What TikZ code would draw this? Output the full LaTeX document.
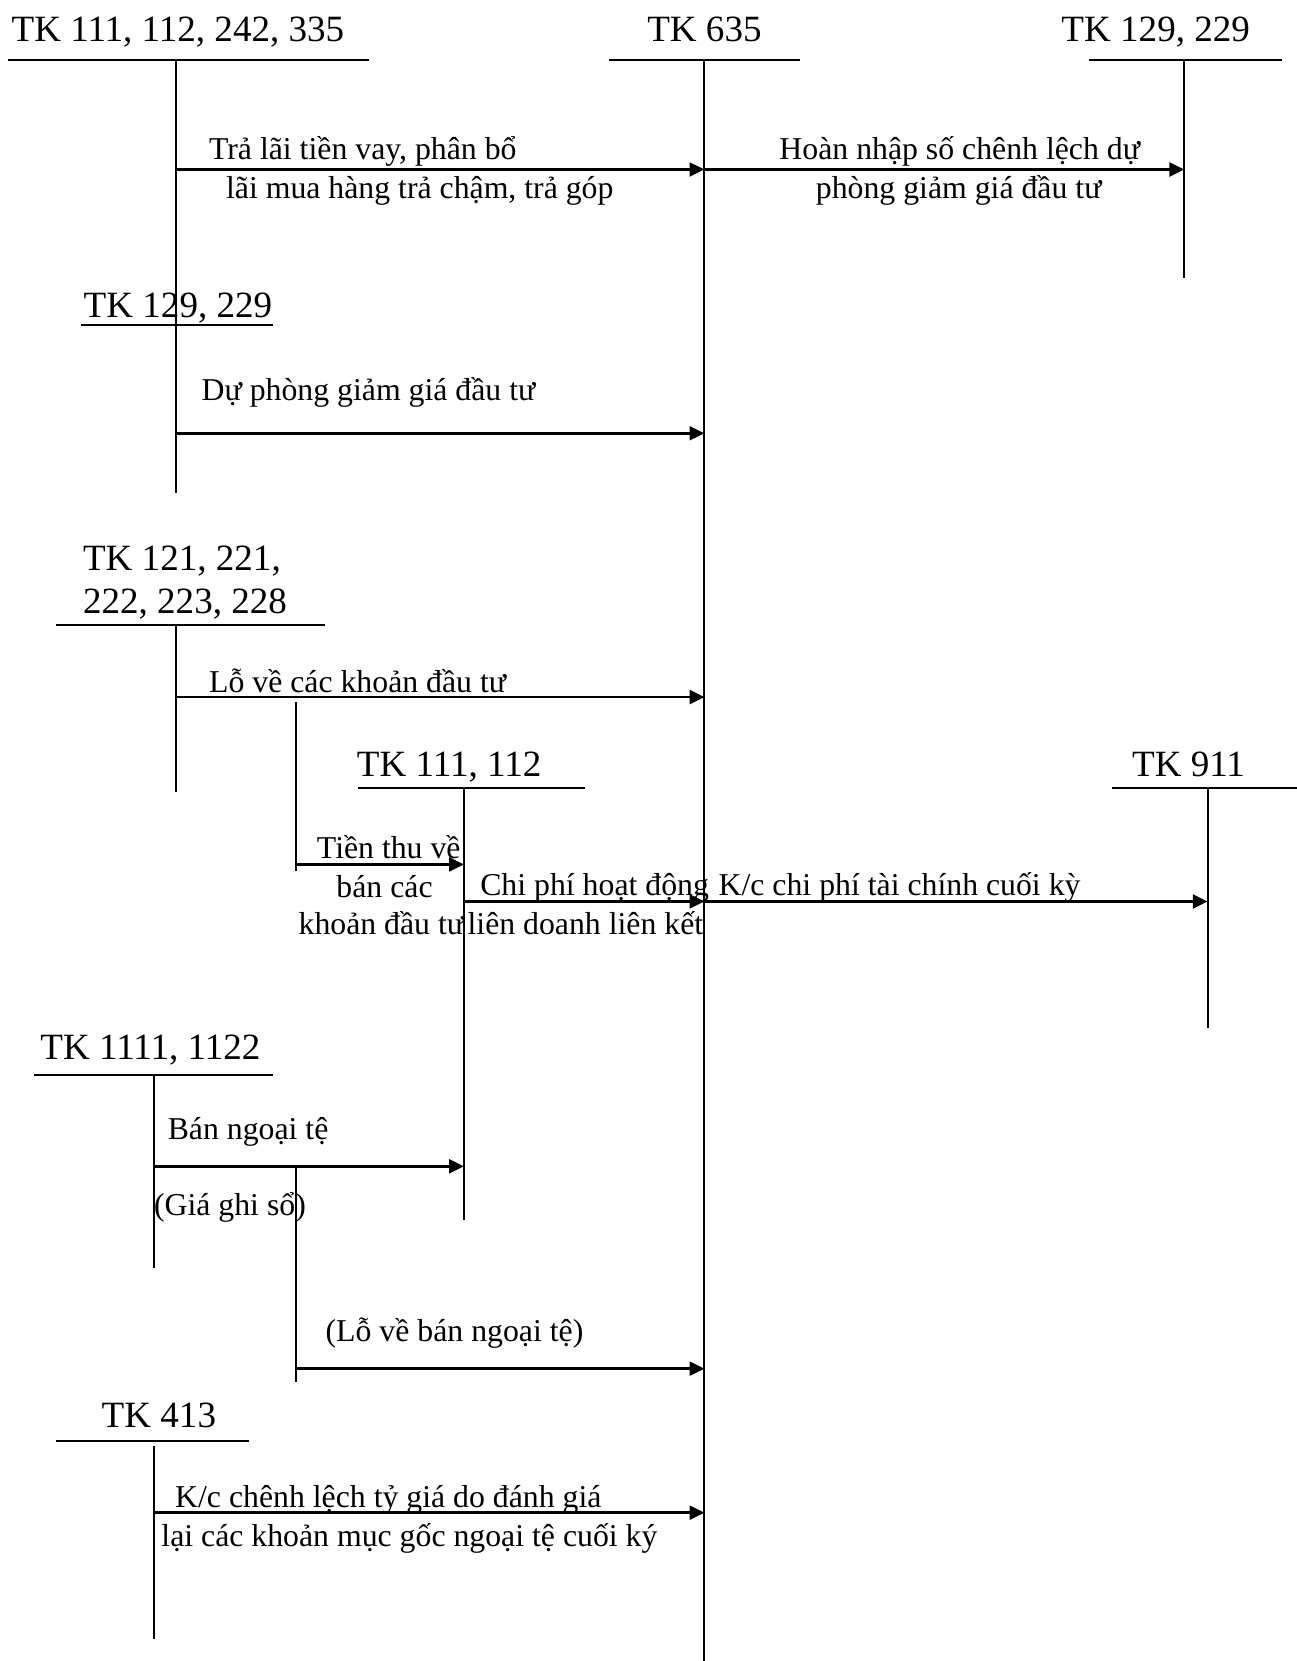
\documentclass[tikz,border=0pt]{standalone}
\usepackage{fontspec}
\setmainfont{Liberation Serif}
\usetikzlibrary{arrows.meta}
\begin{document}
\begin{tikzpicture}[x=0.5pt,y=-0.5pt,
    acct/.style={font=\fontsize{17.5}{20}\selectfont,inner sep=0pt,anchor=base},
    memo/.style={font=\fontsize{15}{17}\selectfont,inner sep=0pt,anchor=base west},
    tline/.style={line width=0.9pt},
    flow/.style={line width=1.3pt,-{Triangle[length=7pt,width=6.5pt]}},]
    \useasboundingbox (0,0) rectangle (1224,1568);
    % T accounts
    \node[acct] (tk111a) at (168,39) {TK 111, 112, 242, 335};
    \draw[tline] (8,57) -- (348,57);
    \coordinate (v111a) at (166,57);
    \node[acct] (tk635) at (665,39) {TK 635};
    \draw[tline] (575,57) -- (755,57);
    \coordinate (v635) at (665,57);
    \node[acct] (tk129a) at (1091,39) {TK 129, 229};
    \draw[tline] (1028,57) -- (1210,57);
    \coordinate (v129a) at (1118,57);
    \node[acct] (tk129b) at (168,300) {TK 129, 229};
    \draw[tline] (76,307) -- (258,307);
    \coordinate (v129b) at (166,307);
    \node[acct,anchor=base west] (tk121) at (78,539) {TK 121, 221,};
    \node[acct,anchor=base west] (tk222) at (78,579) {222, 223, 228};
    \draw[tline] (53,590) -- (307,590);
    \coordinate (v121) at (166,590);
    \node[acct] (tk111b) at (424,733) {TK 111, 112};
    \draw[tline] (338,744) -- (552,744);
    \coordinate (v111b) at (438,744);
    \node[acct] (tk911) at (1122,733) {TK 911};
    \draw[tline] (1050,744) -- (1224,744);
    \coordinate (v911) at (1140,744);
    \node[acct] (tk1111) at (142,1000) {TK 1111, 1122};
    \draw[tline] (32,1015) -- (258,1015);
    \coordinate (v1111) at (145,1015);
    \node[acct] (tk413) at (150,1348) {TK 413};
    \draw[tline] (53,1360) -- (235,1360);
    \coordinate (v413) at (145,1365);
    % verticals
    \draw[tline] (v111a) -- (v129b);
    \draw[tline] (v635) -- (665,1568);
    \draw[tline] (v129a) -- (1118,262);
    \draw[tline] (v129b) -- (166,465);
    \draw[tline] (v121) -- (166,748);
    \draw[tline] (v111b) -- (438,1152);
    \draw[tline] (v911) -- (1140,970);
    \draw[tline] (v1111) -- (145,1197);
    \draw[tline] (v413) -- (145,1547);
    \coordinate (br1) at (279,663);
    \draw[tline] (br1) -- (279,822);
    \coordinate (br2) at (279,1103);
    \draw[tline] (br2) -- (279,1305);
    % rows of the entries
    \coordinate (r1) at (0,160);
    \coordinate (r2) at (0,409);
    \coordinate (r3) at (0,658);
    \coordinate (r4) at (0,816);
    \coordinate (r5) at (0,851);
    \coordinate (r6) at (0,1101);
    \coordinate (r7) at (0,1292);
    \coordinate (r8) at (0,1428);
    \draw[flow] (v111a |- r1) -- (v635 |- r1);
    \draw[flow] (v635 |- r1) -- (v129a |- r1);
    \draw[flow] (v129b |- r2) -- (v635 |- r2);
    \draw[flow] (v121 |- r3) -- (v635 |- r3);
    \draw[flow] (br1 |- r4) -- (v111b |- r4);
    \draw[flow] (v111b |- r5) -- (v635 |- r5);
    \draw[flow] (v635 |- r5) -- (v911 |- r5);
    \draw[flow] (v1111 |- r6) -- (v111b |- r6);
    \draw[flow] (br2 |- r7) -- (v635 |- r7);
    \draw[flow] (v413 |- r8) -- (v635 |- r8);
    % entry texts
    \node[memo] (m1a) at (197,151) {Trả lãi tiền vay, phân bổ};
    \node[memo] (m1b) at (213,187) {lãi mua hàng trả chậm, trả góp};
    \node[memo,anchor=base] (m2a) at (906,151) {Hoàn nhập số chênh lệch dự};
    \node[memo,anchor=base] (m2b) at (905,187) {phòng giảm giá đầu tư};
    \node[memo] (m3) at (190,378) {Dự phòng giảm giá đầu tư};
    \node[memo] (m4) at (197,654) {Lỗ về các khoản đầu tư};
    \node[memo,anchor=base] (m5a) at (367,810) {Tiền thu về};
    \node[memo,anchor=base] (m5b) at (363,847) {bán các};
    \node[memo,anchor=base] (m5c) at (360,882) {khoản đầu tư};
    \node[memo] (m6a) at (453,845) {Chi phí hoạt động};
    \node[memo] (m6b) at (441,882) {liên doanh liên kết};
    \node[memo] (m7) at (678,845) {K/c chi phí tài chính cuối kỳ};
    \node[memo] (m8a) at (158,1076) {Bán ngoại tệ};
    \node[memo] (m8b) at (145,1147) {(Giá ghi sổ)};
    \node[memo] (m9) at (307,1266) {(Lỗ về bán ngoại tệ)};
    \node[memo] (m10a) at (165,1423) {K/c chênh lệch tỷ giá do đánh giá};
    \node[memo] (m10b) at (152,1460) {lại các khoản mục gốc ngoại tệ cuối ký};
\end{tikzpicture}
\end{document}
